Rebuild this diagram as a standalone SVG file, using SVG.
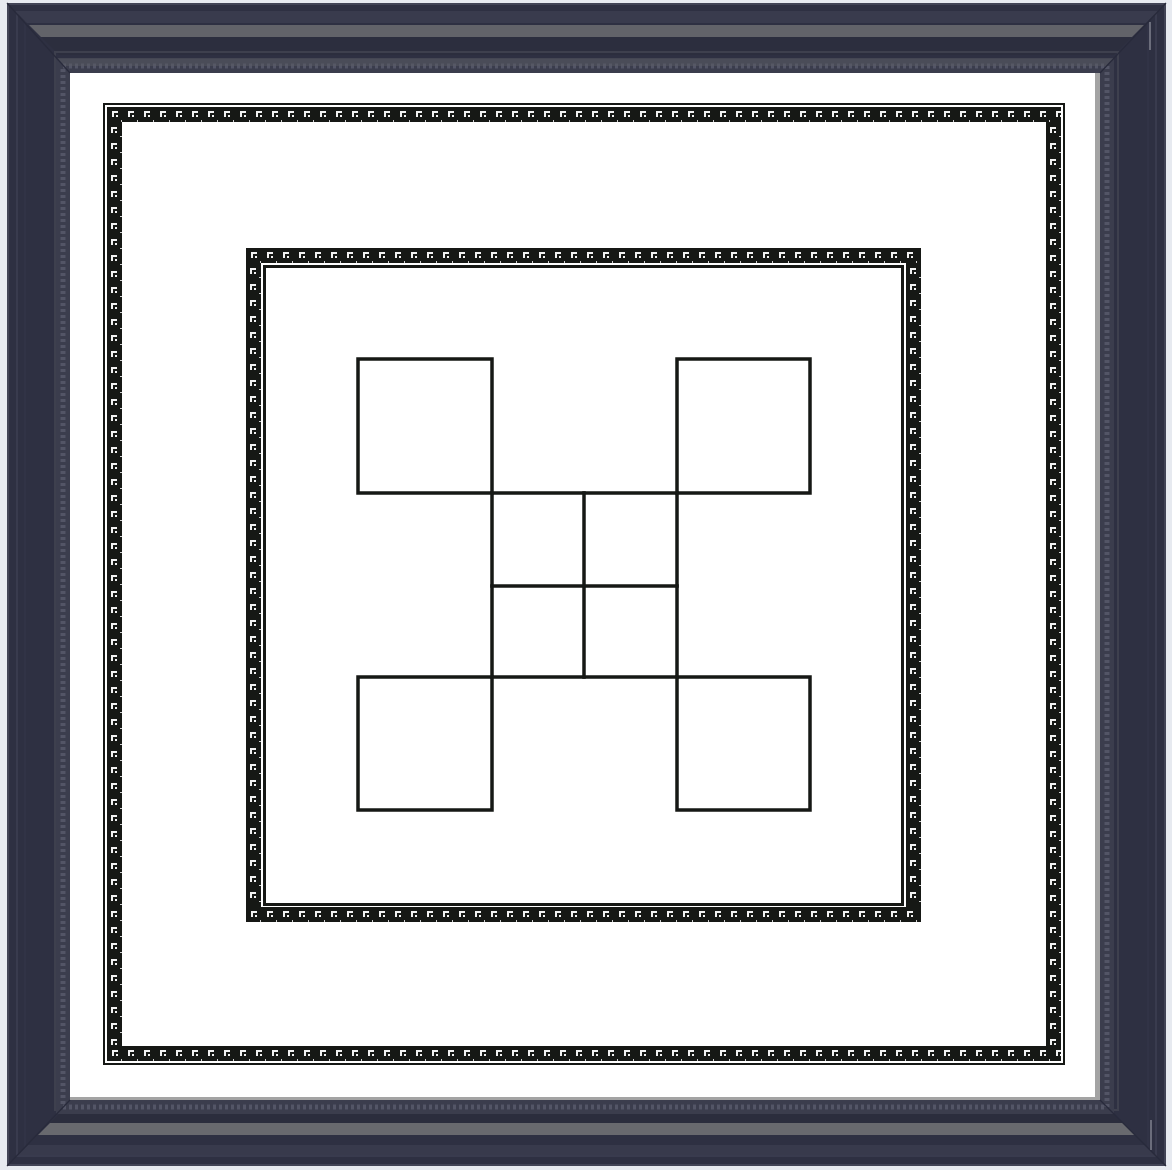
<svg xmlns="http://www.w3.org/2000/svg" width="1172" height="1170" viewBox="0 0 1172 1170">
<defs>
<style>
.ln{fill:none;stroke:#161815;stroke-width:3.5;stroke-linecap:square}
.mit{stroke:#282a3b;stroke-width:1.2}
</style>
<pattern id="bh" width="16" height="15" patternUnits="userSpaceOnUse">
<rect width="16" height="15" fill="#161815"/>
<path d="M5 4h6v2h-4v4h-2z" fill="#f2f2f2"/>
<rect x="9" y="8" width="2" height="2" fill="#f2f2f2"/>
<rect x="14" y="13" width="1" height="2" fill="#cfcfcf"/>
</pattern>
<pattern id="bv" width="15" height="16" patternUnits="userSpaceOnUse">
<rect width="15" height="16" fill="#161815"/>
<path d="M4 5h6v2h-4v4h-2z" fill="#f2f2f2"/>
<rect x="8" y="9" width="2" height="2" fill="#f2f2f2"/>
<rect x="13" y="14" width="2" height="1" fill="#cfcfcf"/>
</pattern>
</defs>
<rect width="1172" height="1170" fill="#e7eaf0"/>
<g id="frame">
<rect x="7" y="3" width="1159" height="1163" fill="#2e3042"/>
<rect x="8" y="4" width="1157" height="1161" fill="none" stroke="#424456" stroke-width="2"/>
<rect x="17" y="13" width="1139" height="1143" fill="none" stroke="#393b4e" stroke-width="2"/>
<rect x="25" y="21" width="1123" height="1127" fill="none" stroke="#333548" stroke-width="1.5"/>
<polygon points="15,11 1158,11 1146,23 27,23" fill="#393b4d"/>
<polygon points="29,25 1144,25 1132,37 41,37" fill="#626369"/>
<polygon points="41,37 1132,37 1114,55 59,55" fill="#2c2e3e"/>
<polygon points="18,1155 1155,1155 1145,1145 28,1145" fill="#383a4c"/>
<polygon points="38,1135 1135,1135 1123,1123 50,1123" fill="#68696e"/>
<polygon points="50,1123 1123,1123 1111,1111 62,1111" fill="#2b2d3d"/>
<rect x="55" y="52" width="1063" height="1058" fill="none" stroke="#3e404e" stroke-width="2"/>
<rect x="63" y="66" width="1044" height="1041" fill="none" stroke="#3b3d4d" stroke-width="14"/>
<rect x="63" y="66" width="1044" height="1041" fill="none" stroke="#535566" stroke-width="5" stroke-dasharray="3 3"/>
<polygon points="56,58 1114,58 1107,66 63,66" fill="#5a5b64" opacity="0.5"/>
<line class="mit" x1="7" y1="3" x2="70" y2="73"/>
<line class="mit" x1="1166" y1="3" x2="1100" y2="73"/>
<line class="mit" x1="7" y1="1166" x2="70" y2="1100"/>
<line class="mit" x1="1166" y1="1166" x2="1100" y2="1100"/>
<line x1="1150" y1="22" x2="1150" y2="50" stroke="#80828f" stroke-width="1.5"/>
<line x1="1151" y1="1120" x2="1151" y2="1150" stroke="#80828f" stroke-width="1.5"/>
<rect x="70" y="73" width="1030" height="1027" fill="#a3a3a3"/>
<rect x="70" y="73" width="1025" height="1024" fill="#ffffff"/>
</g>
<g id="outer-border">
<rect x="104" y="104" width="960" height="960" fill="none" stroke="#161815" stroke-width="2"/>
<g transform="translate(107,107)"><rect width="954" height="15" fill="url(#bh)"/></g>
<g transform="translate(107,1046)"><rect width="954" height="15" fill="url(#bh)"/></g>
<g transform="translate(107,122)"><rect width="15" height="924" fill="url(#bv)"/></g>
<g transform="translate(1046,122)"><rect width="15" height="924" fill="url(#bv)"/></g>
</g>
<g id="inner-border">
<g transform="translate(246,248)"><rect width="675" height="15" fill="url(#bh)"/></g>
<g transform="translate(246,907)"><rect width="675" height="15" fill="url(#bh)"/></g>
<g transform="translate(246,263)"><rect width="15" height="644" fill="url(#bv)"/></g>
<g transform="translate(906,263)"><rect width="15" height="644" fill="url(#bv)"/></g>
<rect x="264.5" y="266.5" width="638" height="638" fill="none" stroke="#161815" stroke-width="3"/>
</g>
<g id="square-tl"><rect class="ln" x="358" y="359" width="134" height="134"/></g>
<g id="square-tr"><rect class="ln" x="677" y="359" width="133" height="134"/></g>
<g id="square-bl"><rect class="ln" x="358" y="677" width="134" height="133"/></g>
<g id="square-br"><rect class="ln" x="677" y="677" width="133" height="133"/></g>
<g id="center-grid">
<rect class="ln" x="492" y="493" width="185" height="184"/>
<line class="ln" x1="584" y1="493" x2="584" y2="677"/>
<line class="ln" x1="492" y1="586" x2="677" y2="586"/>
</g>
</svg>
